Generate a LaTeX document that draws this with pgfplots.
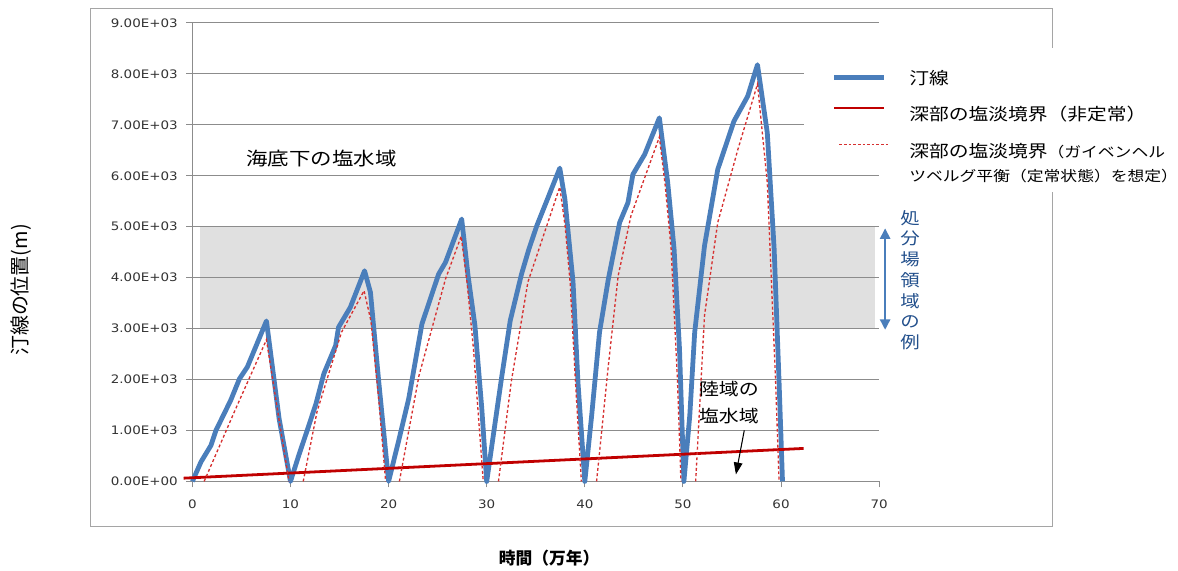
\documentclass[border=0pt]{standalone}
\usepackage{pgfplots}
\pgfplotsset{compat=1.18}
\usepackage{fontspec}
\usetikzlibrary{arrows.meta}

\newfontfamily\jp[FakeStretch=1.17]{Noto Sans CJK JP}
\newfontfamily\jpn{Noto Sans CJK JP}
\newfontfamily\tickf[FakeStretch=1.15]{DejaVu Sans}

\definecolor{shoreblue}{RGB}{74,126,187}
\definecolor{deepred}{RGB}{192,0,0}
\definecolor{eqred}{RGB}{214,48,48}
\definecolor{gridgray}{RGB}{140,140,140}
\definecolor{framegray}{RGB}{165,165,165}
\definecolor{bandgray}{RGB}{224,224,224}
\definecolor{notebl}{RGB}{35,80,140}

% pixel-like frame: origin of the axis box sits at (193,483)
\tikzset{px/.style={x=0.75pt,y=-0.75pt,shift={(-144.75pt,362.25pt)}}}

\begin{document}
\begin{tikzpicture}
\begin{scope}[px]
  \useasboundingbox (0,0) rectangle (1178,572);
\end{scope}

\begin{axis}[
  at={(0pt,0pt)}, anchor=south west,
  scale only axis, width=516.75pt, height=345pt,
  xmin=0, xmax=70, ymin=0, ymax=9000,
  axis x line*=bottom, axis y line*=left,
  axis line style={draw=gridgray, line width=0.9pt, -},
  xtick={0,10,...,70}, xticklabels={0,10,20,30,40,50,60,70},
  ytick={0,1000,...,9000},
  yticklabels={0.00E+00,1.00E+03,2.00E+03,3.00E+03,4.00E+03,5.00E+03,6.00E+03,7.00E+03,8.00E+03,9.00E+03},
  tick align=outside, major tick length=4.5pt,
  tick style={draw=gridgray, line width=0.75pt},
  ymajorgrids, grid style={draw=gridgray, line width=0.75pt},
  ticklabel style={font=\tickf\fontsize{8.8}{10}\selectfont, text=black!80},
  xticklabel style={yshift=-6pt},
  yticklabel style={xshift=-3pt},
  clip=false, set layers,
]
% example disposal-depth band (3000-5000 m)
\begin{pgfonlayer}{axis background}
  \fill[bandgray] (axis cs:0.8,3000) rectangle (axis cs:69.6,5000);
\end{pgfonlayer}

% shoreline position
\addplot[shoreblue, line width=3.6pt, line join=round] coordinates {
(0,0) (0.88,385) (1.9,710) (2.4,1000) (3.9,1590) (4.8,2015) (5.6,2245) (7.55,3150) (8.84,1233) (10,0)
(10.85,515) (11.7,1000) (12.6,1526) (13.4,2113) (14.6,2667) (14.9,3027) (16.1,3418) (17.55,4135) (18.15,3712) (19.0,1951) (20,0)
(21.0,777) (22.05,1624) (23.4,3092) (24.25,3581) (25.1,4070) (25.8,4300) (27.45,5150) (28.1,4040) (28.8,3060) (29.5,1430) (30,0)
(31.5,2015) (32.4,3157) (33.55,4070) (34.3,4560) (35.1,5015) (37.45,6150) (37.97,5540) (38.8,3914) (39.3,1951) (40,0)
(40.7,1297) (41.5,2929) (42.4,3973) (43.55,5082) (44.4,5473) (44.9,6027) (46.1,6419) (47.6,7137) (48.45,5865) (49.1,4560) (49.65,2603) (50.1,0)
(50.7,1297) (51.2,2929) (52.2,4625) (53.55,6125) (55.2,7071) (56.6,7560) (57.6,8180) (58.6,6843) (59.3,4560) (59.8,1951) (60.15,0)
};

% deep salt/fresh interface (transient)
\addplot[deepred, line width=2.1pt] coordinates {(-0.9,64) (62.3,648)};

% deep salt/fresh interface (Ghyben-Herzberg, steady state)
\addplot[eqred, line width=1pt, dash pattern=on 2.2pt off 1.8pt] coordinates {
(1.2,0) (4.4,1420) (7.55,2780) (8.8,1250) (9.85,0)
};
\addplot[eqred, line width=1pt, dash pattern=on 2.2pt off 1.8pt] coordinates {
(11.3,0) (12.7,1364) (15.2,2929) (17.5,3744) (18.2,3150) (19.0,1600) (19.7,0)
};
\addplot[eqred, line width=1pt, dash pattern=on 2.2pt off 1.8pt] coordinates {
(21.1,0) (23.1,2080) (25.8,3973) (27.4,4814) (28.0,3900) (28.65,2603) (29.65,0)
};
\addplot[eqred, line width=1pt, dash pattern=on 2.2pt off 1.8pt] coordinates {
(31.2,0) (32.5,1951) (34.2,3914) (37.45,5780) (38.0,5000) (38.5,3914) (39.05,1951) (39.65,0)
};
\addplot[eqred, line width=1pt, dash pattern=on 2.2pt off 1.8pt] coordinates {
(41.2,0) (42.4,2277) (43.4,4037) (44.7,5212) (47.6,6760) (48.2,5800) (48.8,4560) (49.45,1951) (49.8,0)
};
\addplot[eqred, line width=1pt, dash pattern=on 2.2pt off 1.8pt] coordinates {
(51.3,0) (52.2,3255) (53.55,5082) (55.6,6516) (57.6,7800) (58.6,5865) (59.45,1951) (59.8,0)
};
\end{axis}

\begin{scope}[px]
  % outer frame
  \draw[framegray, line width=1.1pt] (91,8.5) rectangle (1056,528);
  % legend backdrop
  \fill[white] (807,48.5) rectangle (1062,165);
  \fill[white] (893,165) rectangle (1062,193);

  % legend
  \draw[shoreblue, line width=3.8pt] (837,78) -- (887,78);
  \draw[deepred, line width=2pt] (837,108.5) -- (887,108.5);
  \draw[eqred, line width=1pt, dash pattern=on 2pt off 1.5pt] (842,145) -- (893,145);
  \node[anchor=west, inner sep=0, font=\jp\fontsize{12.7}{14}\selectfont] at (912,78) {汀線};
  \node[anchor=west, inner sep=0, font=\jp\fontsize{12.7}{14}\selectfont] at (912,114) {深部の塩淡境界（非定常）};
  \node[anchor=west, inner sep=0, font=\jp\fontsize{12.7}{14}\selectfont] at (912,152) {深部の塩淡境界{\fontsize{10.8}{13}\selectfont （ガイベンヘル}};
  \node[anchor=west, inner sep=0, font=\jp\fontsize{10.8}{13}\selectfont] at (912,177) {ツベルグ平衡（定常状態）を想定）};

  % annotations
  \node[anchor=west, inner sep=0, font=\jp\fontsize{13.8}{16}\selectfont] at (247,159) {海底下の塩水域};
  \node[anchor=west, inner sep=0, font=\jp\fontsize{12.8}{15}\selectfont] at (701,390) {陸域の};
  \node[anchor=west, inner sep=0, font=\jp\fontsize{12.8}{15}\selectfont] at (701,417) {塩水域};
  \draw[black, line width=0.8pt, -{Triangle[width=6.5pt,length=9pt]}] (746.7,431.7) -- (738.3,476);

  \draw[shoreblue, line width=2pt, {Triangle[width=7.5pt,length=8pt]}-{Triangle[width=7.5pt,length=8pt]}] (888,229) -- (888,331);
  \node[text=notebl, align=center, inner sep=0, font=\jp\fontsize{12.5}{15.6}\selectfont] at (913,281) {処\\分\\場\\領\\域\\の\\例};

  % axis titles
  \node[rotate=90, inner sep=0, font=\jpn\fontsize{15}{17}\selectfont] at (21,291) {汀線の位置(m)};
  \node[inner sep=0, font=\jpn\bfseries\fontsize{12.6}{14}\selectfont] at (551,560) {時間（万年）};
\end{scope}
\end{tikzpicture}
\end{document}
